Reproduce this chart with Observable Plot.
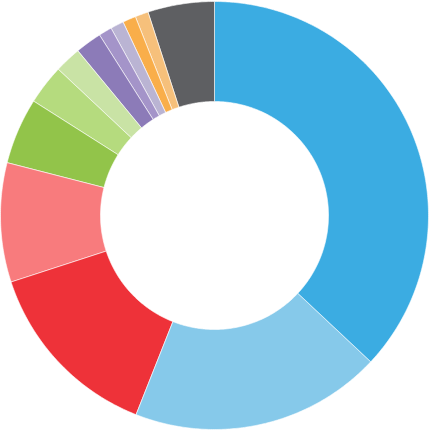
<!DOCTYPE html>
<html>
<head>
<meta charset="utf-8">
<script src="https://cdn.jsdelivr.net/npm/d3@7"></script>
<script src="https://cdn.jsdelivr.net/npm/@observablehq/plot@0.6"></script>
<style>
  html, body { margin: 0; padding: 0; background: #fff; }
  #chart { width: 430px; height: 430px; }
</style>
</head>
<body>
<div id="chart"></div>
<script>
// Slice categories (clockwise from 12 o'clock)
const categories = ["A","B","C","D","E","F","G","H","I","J","K","L","M"];
// Share of each slice (percent)
const values = [37, 19, 14, 9, 5, 3, 2, 2, 1, 1, 1, 1, 5];
// Slice colours
const colors = ["#3BACE2","#86C9EA","#EE3239","#F87B7D","#92C44A","#B5DB7E","#C9E3A5",
                "#8C7BB8","#A494C9","#BAB4D3","#F9AE4A","#F6C07B","#5E5F62"];

const R_OUT = 214, R_IN = 114;

// Build slice polygons from the data via d3.pie
const pie = d3.pie().sort(null).value(d => d.value)(categories.map((c, i) => ({cat: c, value: values[i]})));
const pts = [];
for (const s of pie) {
  const n = Math.max(8, Math.ceil((s.endAngle - s.startAngle) / 0.01));
  for (let k = 0; k <= n; k++) {
    const a = s.startAngle + (s.endAngle - s.startAngle) * k / n;
    pts.push({cat: s.data.cat, x: R_OUT * Math.sin(a), y: R_OUT * Math.cos(a)});
  }
  for (let k = n; k >= 0; k--) {
    const a = s.startAngle + (s.endAngle - s.startAngle) * k / n;
    pts.push({cat: s.data.cat, x: R_IN * Math.sin(a), y: R_IN * Math.cos(a)});
  }
}

const chart = Plot.plot({
  width: 430,
  height: 430,
  margin: 0,
  x: {domain: [-214, 216], axis: null},
  y: {domain: [-215, 215], axis: null},
  color: {domain: categories, range: colors},
  marks: [
    Plot.line(pts, {
      x: "x", y: "y", z: "cat",
      fill: "cat",
      stroke: "#ffffff",
      strokeWidth: 0.6,
      curve: "linear-closed"
    })
  ]
});
document.getElementById("chart").appendChild(chart);
</script>
</body>
</html>
